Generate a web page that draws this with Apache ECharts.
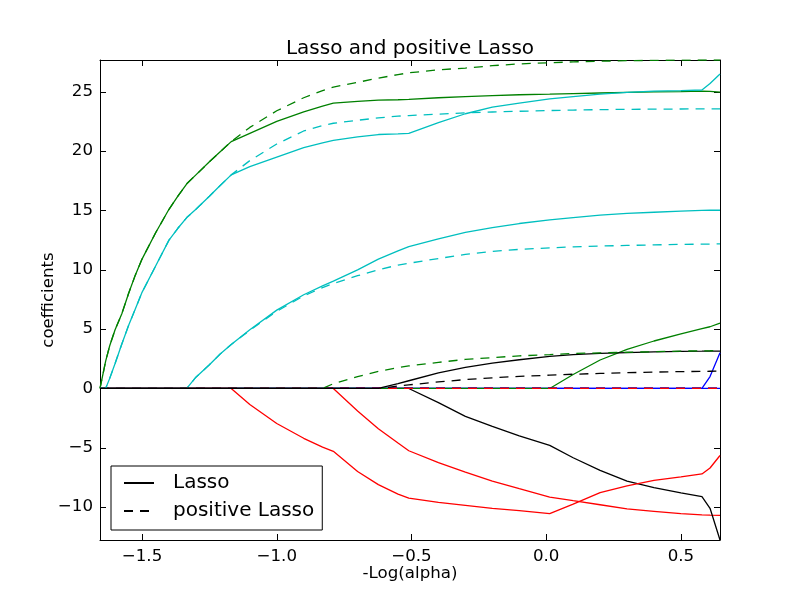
<!DOCTYPE html>
<html>
<head>
<meta charset="utf-8">
<script src="https://cdn.jsdelivr.net/npm/echarts@6/dist/echarts.min.js"></script>
<style>html,body{margin:0;background:#fff}#main{width:800px;height:600px}</style>
</head>
<body>
<div id="main"></div>
<script>
// -log10(alpha) sample points shared by every path
var xs = [-1.656, -1.635, -1.62, -1.6, -1.575, -1.55, -1.525, -1.5, -1.45, -1.4, -1.367, -1.334, -1.3, -1.25, -1.21, -1.169,
          -1.1, -1.0, -0.9, -0.83, -0.79, -0.7, -0.623, -0.55, -0.51, -0.4, -0.3, -0.2, -0.1, 0.013, 0.1, 0.2, 0.3, 0.4, 0.5, 0.578, 0.608, 0.645];

var flat = [0,0,0,0,0,0,0,0,0,0,0,0,0,0,0,0,
            0,0,0,0,0,0,0,0,0,0,0,0,0,0,0,0,0,0,0,0,0,0];

// Lasso coefficients
var sex = [0,0,0,0,0,0,0,0,0,0,0,0,0,0,0,0,
           0,0,0,0,0, -1.9, -3.4, -4.6, -5.25, -6.25, -7.05, -7.8, -8.45, -9.15, -9.46, -9.8, -10.15, -10.35, -10.55, -10.65, -10.68, -10.7];
var bmi = [0, 2.3, 3.6, 4.95, 6.3, 8.0, 9.55, 10.9, 13.1, 15.1, 16.2, 17.25, 18.0, 19.1, 19.95, 20.8,
           21.5, 22.5, 23.3, 23.8, 24.05, 24.2, 24.3, 24.33, 24.36, 24.5, 24.6, 24.68, 24.75, 24.8, 24.85, 24.9, 24.95, 25.0, 25.02, 25.05, 25.03, 24.98];
var bp = [0,0,0,0,0,0,0,0,0,0,0,0, 0.95, 2.0, 2.9, 3.7,
          4.95, 6.6, 7.9, 8.65, 9.05, 10.0, 10.9, 11.6, 11.95, 12.6, 13.15, 13.55, 13.9, 14.2, 14.4, 14.6, 14.75, 14.85, 14.95, 15.0, 15.02, 15.02];
var s1 = [0,0,0,0,0,0,0,0,0,0,0,0,0,0,0,0,
          0,0,0,0,0,0,0,0,0, -1.2, -2.35, -3.2, -4.0, -4.8, -5.84, -6.9, -7.8, -8.36, -8.8, -9.12, -10.1, -12.77];
var s2 = [0,0,0,0,0,0,0,0,0,0,0,0,0,0,0,0,
          0,0,0,0,0,0,0,0,0,0,0,0,0,0,0,0,0,0,0,0, 1.0, 3.0];
var s3 = [0,0,0,0,0,0,0,0,0,0,0,0,0,0,0,0,
          -1.35, -2.95, -4.2, -4.95, -5.3, -7.0, -8.1, -8.9, -9.25, -9.6, -9.85, -10.1, -10.3, -10.55, -9.75, -8.77, -8.2, -7.74, -7.45, -7.2, -6.7, -5.65];
var s4 = [0,0,0,0,0,0,0,0,0,0,0,0,0,0,0,0,
          0,0,0,0,0,0,0,0,0,0,0,0,0,0, 1.18, 2.4, 3.3, 4.0, 4.6, 5.05, 5.2, 5.5];
var s5 = [0, 0, 0.85, 2.1, 3.75, 5.3, 6.7, 8.1, 10.3, 12.5, 13.5, 14.4, 15.1, 16.2, 17.1, 18.0,
          18.7, 19.5, 20.3, 20.7, 20.9, 21.2, 21.4, 21.45, 21.5, 22.4, 23.15, 23.7, 24.05, 24.4, 24.6, 24.8, 24.95, 25.05, 25.1, 25.15, 25.7, 26.5];
var s6 = [0,0,0,0,0,0,0,0,0,0,0,0,0,0,0,0,
          0,0,0,0,0,0,0, 0.4, 0.65, 1.32, 1.77, 2.13, 2.42, 2.7, 2.85, 2.95, 3.02, 3.08, 3.12, 3.14, 3.15, 3.15];

// positive Lasso coefficients (age, sex, s1, s2, s3 stay at zero)
var bmiPos = [0, 2.3, 3.6, 4.95, 6.3, 8.0, 9.55, 10.9, 13.1, 15.1, 16.2, 17.25, 18.0, 19.1, 19.95, 20.8,
              22.0, 23.4, 24.5, 25.1, 25.4, 25.8, 26.15, 26.45, 26.6, 26.85, 27.0, 27.2, 27.35, 27.45, 27.52, 27.58, 27.62, 27.65, 27.67, 27.68, 27.68, 27.68];
var bpPos = [0,0,0,0,0,0,0,0,0,0,0,0, 0.95, 2.0, 2.9, 3.7,
             4.9, 6.5, 7.8, 8.5, 8.85, 9.5, 10.0, 10.4, 10.55, 10.95, 11.3, 11.55, 11.72, 11.85, 11.93, 12.0, 12.05, 12.1, 12.14, 12.16, 12.17, 12.18];
var s4Pos = [0,0,0,0,0,0,0,0,0,0,0,0,0,0,0,0,
             0,0,0,0, 0.4, 1.0, 1.45, 1.75, 1.9, 2.2, 2.45, 2.6, 2.75, 2.85, 2.95, 3.0, 3.05, 3.1, 3.15, 3.17, 3.18, 3.2];
var s5Pos = [0, 0, 0.85, 2.1, 3.75, 5.3, 6.7, 8.1, 10.3, 12.5, 13.5, 14.4, 15.1, 16.2, 17.1, 18.0,
             19.2, 20.6, 21.7, 22.15, 22.35, 22.6, 22.8, 22.95, 23.0, 23.12, 23.22, 23.3, 23.36, 23.42, 23.46, 23.5, 23.52, 23.54, 23.55, 23.56, 23.56, 23.56];
var s6Pos = [0,0,0,0,0,0,0,0,0,0,0,0,0,0,0,0,
             0,0,0,0,0,0,0, 0.2, 0.3, 0.55, 0.75, 0.9, 1.02, 1.12, 1.2, 1.27, 1.33, 1.38, 1.42, 1.44, 1.45, 1.46];

var xTicks = [-1.5, -1.0, -0.5, 0, 0.5];
var yTicks = [-10, -5, 0, 5, 10, 15, 20, 25];

var font = 'DejaVu Sans';
var dashed = [9, 7];
// colour cycle b, r, g, c, k repeated over the ten features
var features = [
    ['age', '#0000ff', flat, flat],
    ['sex', '#ff0000', sex, flat],
    ['bmi', '#008000', bmi, bmiPos],
    ['bp', '#00bfbf', bp, bpPos],
    ['s1', '#000000', s1, flat],
    ['s2', '#0000ff', s2, flat],
    ['s3', '#ff0000', s3, flat],
    ['s4', '#008000', s4, s4Pos],
    ['s5', '#00bfbf', s5, s5Pos],
    ['s6', '#000000', s6, s6Pos]
];

function path(name, color, vals, dash) {
    return {
        type: 'line', name: name, symbol: 'none', silent: true,
        data: vals.map(function (v, i) { return [xs[i], v]; }),
        lineStyle: {color: color, width: 1.3, type: dash},
        itemStyle: {color: color}
    };
}

// all Lasso paths first, then all positive Lasso paths
var series = [];
features.forEach(function (f) { series.push(path(f[0], f[1], f[2], 'solid')); });
features.forEach(function (f) { series.push(path(f[0] + ' positive', f[1], f[3], dashed)); });
series.push(path('Lasso', '#000', [], 'solid'));
series.push(path('positive Lasso', '#000', [], dashed));

function minus(v) { return String(v).replace('-', '\u2212'); }

var frame = {show: true, onZero: false, lineStyle: {color: '#000', width: 1}};
var tickStyle = {color: '#000', width: 1};

var myChart = echarts.init(document.getElementById('main'));
var option = {
    animation: false,
    backgroundColor: '#fff',
    title: {
        text: 'Lasso and positive Lasso',
        left: 410, top: 39, textAlign: 'center', padding: 0,
        textStyle: {fontFamily: font, fontSize: 20, fontWeight: 'normal', color: '#000'}
    },
    legend: {
        data: ['Lasso', 'positive Lasso'],
        orient: 'vertical',
        left: 111, top: 466,
        padding: [7, 8, 9, 12],
        itemGap: 8,
        itemWidth: 30, itemHeight: 14,
        itemStyle: {opacity: 0},
        borderColor: '#000', borderWidth: 1, borderRadius: 0,
        backgroundColor: '#fff',
        selectedMode: false,
        textStyle: {fontFamily: font, fontSize: 20, color: '#000', padding: [0, 0, 0, 14]}
    },
    grid: {left: 100, right: 80, top: 60, bottom: 60},
    xAxis: [{
        type: 'value', min: -1.656, max: 0.645, position: 'bottom',
        name: '-Log(alpha)', nameLocation: 'middle', nameGap: 25, nameMoveOverlap: false,
        nameTextStyle: {fontFamily: font, fontSize: 16.67, color: '#000'},
        axisLine: frame,
        axisTick: {inside: true, length: 6, customValues: xTicks, lineStyle: tickStyle},
        axisLabel: {customValues: xTicks, margin: 8, color: '#000', fontFamily: font, fontSize: 16.67,
            formatter: function (v) { return minus(v.toFixed(1)); }},
        splitLine: {show: false}
    }, {
        type: 'value', min: -1.656, max: 0.645, position: 'top',
        axisLine: frame,
        axisTick: {inside: true, length: 6, customValues: xTicks, lineStyle: tickStyle},
        axisLabel: {show: false},
        splitLine: {show: false}
    }],
    yAxis: [{
        type: 'value', min: -12.77, max: 27.68, position: 'left',
        name: 'coefficients', nameLocation: 'middle', nameGap: 43, nameMoveOverlap: false,
        nameTextStyle: {fontFamily: font, fontSize: 16.67, color: '#000'},
        axisLine: frame,
        axisTick: {inside: true, length: 6, customValues: yTicks, lineStyle: tickStyle},
        axisLabel: {customValues: yTicks, margin: 7, color: '#000', fontFamily: font, fontSize: 16.67,
            formatter: function (v) { return minus(v); }},
        splitLine: {show: false}
    }, {
        type: 'value', min: -12.77, max: 27.68, position: 'right',
        axisLine: frame,
        axisTick: {inside: true, length: 6, customValues: yTicks, lineStyle: tickStyle},
        axisLabel: {show: false},
        splitLine: {show: false}
    }],
    series: series
};
myChart.setOption(option);
</script>
</body>
</html>
